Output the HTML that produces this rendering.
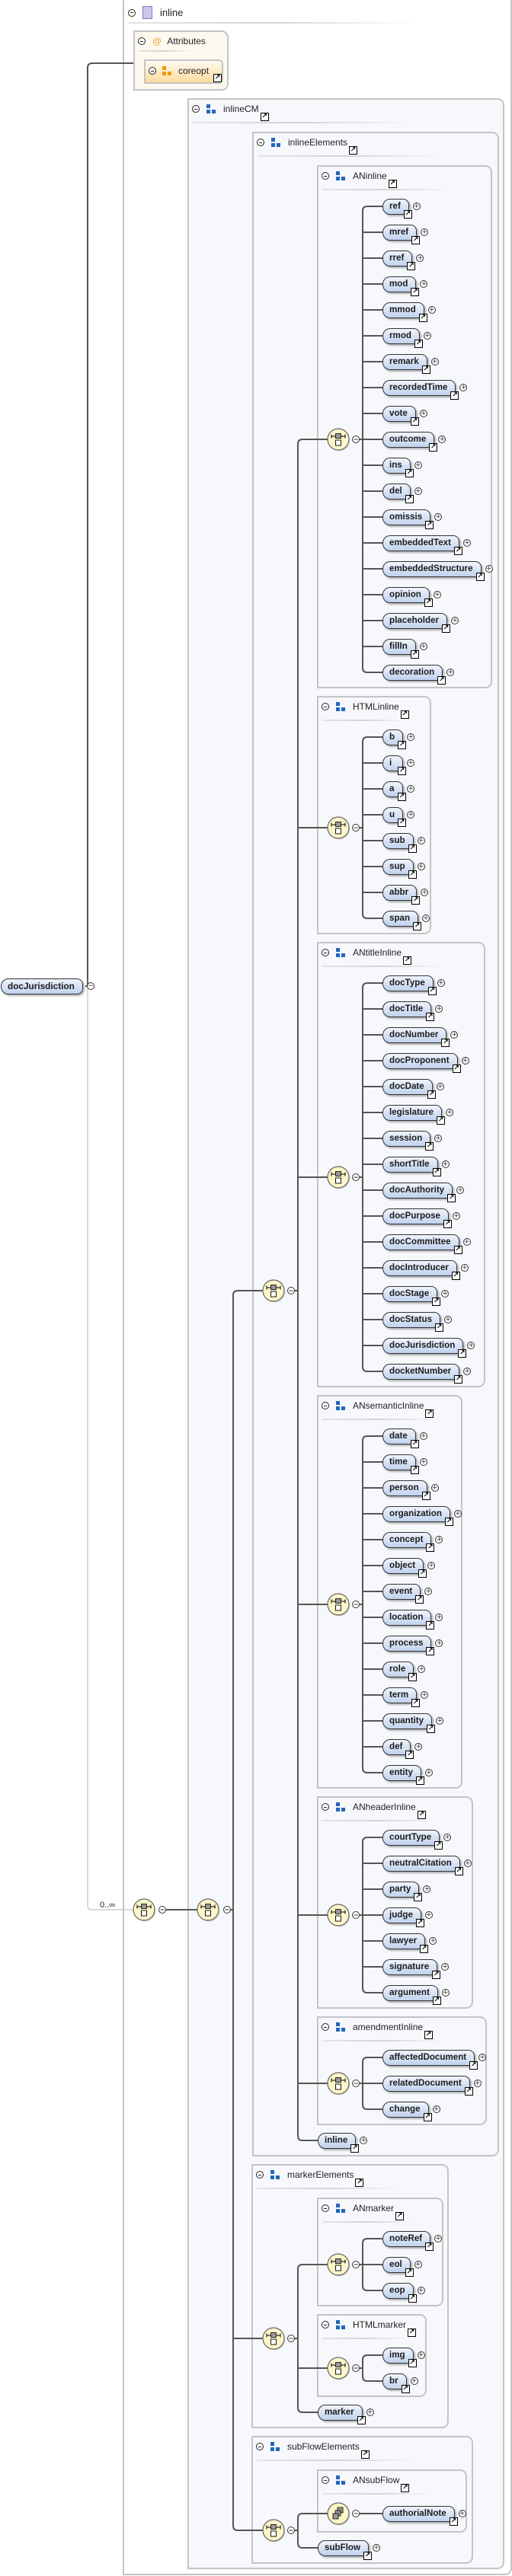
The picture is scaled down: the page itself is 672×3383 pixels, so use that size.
<!DOCTYPE html>
<html><head><meta charset="utf-8">
<style>
*{margin:0;padding:0}
html,body{width:672px;height:3383px;background:#fff;position:relative;overflow:hidden;font-family:"Liberation Sans",sans-serif}
.b{position:absolute;box-sizing:border-box;border:2px solid #c4c4c4;border-radius:0 9px 9px 0;background:#f7f8fc}
.hd{position:absolute;left:4px;top:3px;height:18px;display:flex;align-items:center;font-size:12px;color:#222;white-space:nowrap}
.mn{display:inline-block;width:8px;height:8px;border:1px solid #222;border-radius:50%;position:relative;margin-right:9px;background:#fff}
.mn::after{content:'';position:absolute;left:2px;top:3.5px;width:4px;height:1px;background:#222}
.gi{display:inline-block;width:5px;height:5px;background:#2266bb;box-shadow:0 7px 0 #2266bb,7px 7px 0 #2266bb;margin:-7px 17px 0 0}
.lk{display:inline-block;width:9px;height:9px;border:1px solid #000;background:#fff;position:relative;top:10px;margin-left:2px;font:bold 9px/9px "DejaVu Sans",sans-serif;text-align:center;font-style:normal;color:#000}
.sep{position:absolute;left:5px;top:29px;height:2px;background:linear-gradient(90deg,#e4e4e4,#d4d4d4 50%,rgba(220,220,220,0))}
.e{position:absolute;height:21px;box-sizing:border-box;line-height:18px;padding:0 10px 0 8px;border:1.5px solid #333;border-radius:10px 8px 8px 10px;background:linear-gradient(#f0f4fc,#c0d2ee);font:bold 11.6px/18px "Liberation Sans",sans-serif;color:#1c1c1c;box-shadow:2px 2px 2px rgba(0,0,0,.3);white-space:nowrap;min-width:27px}
.e::after{content:'\2197';position:absolute;right:-5px;bottom:-6px;width:9px;height:9px;border:1px solid #000;background:#fff;font:bold 9px/9px "DejaVu Sans",sans-serif;text-align:center;color:#000}
.e::before{content:'+';position:absolute;right:-16px;top:4px;width:8px;height:8px;border:1px solid #333;border-radius:50%;background:#fff;font:9px/8px "DejaVu Sans",sans-serif;text-align:center;color:#333}
.e.r::after{display:none}
.e.r::before{content:'\2212'}
</style></head><body>

<div class="b" style="left:161px;top:-2px;width:511px;height:3384px;background:#fff;border-radius:0 0 9px 0">
 <div style="position:absolute;left:5px;top:8px;display:flex;align-items:center;font-size:13px;color:#222"><i class="mn"></i><i style="display:inline-block;width:11px;height:15px;background:#cfc4ec;border:1px solid #8a76c8;margin-right:10px"></i><span>inline</span></div>
 <div class="sep" style="top:29px;width:380px"></div>
</div>

<div class="b" style="left:175px;top:40px;width:125px;height:79px;background:#fef9ef">
 <div class="hd"><i class="mn"></i><span style="color:#f0a030;margin-right:7px">@</span><span>Attributes</span></div>
 <div class="sep" style="width:70px;top:24px"></div>
</div>
<div class="b" style="left:189px;top:78px;width:104px;height:32px;background:linear-gradient(#fffaf0,#fcdc9e);border-radius:0 6px 6px 0">
 <div style="position:absolute;left:4px;top:6px;display:flex;align-items:center;font-size:12px;color:#222">
  <i class="mn" style="margin-right:8px"></i>
  <i style="display:inline-block;width:5px;height:5px;background:#f09a10;box-shadow:0 7px 0 #f09a10,7px 7px 0 #f09a10;margin:-7px 16px 0 0"></i><span>coreopt</span></div>
 <i class="lk" style="position:absolute;left:87px;top:17px">&#8599;</i>
</div>

<div class="b" style="left:246px;top:129px;width:416px;height:3245px"><div class="hd"><i class="mn"></i><i class="gi"></i><span>inlineCM</span><i class="lk">&#8599;</i></div><div class="sep" style="width:290px"></div></div>
<div class="b" style="left:331px;top:173px;width:324px;height:2659px"><div class="hd"><i class="mn"></i><i class="gi"></i><span>inlineElements</span><i class="lk">&#8599;</i></div><div class="sep" style="width:240px"></div></div>
<div class="b" style="left:416px;top:217px;width:230px;height:687px"><div class="hd"><i class="mn"></i><i class="gi"></i><span>ANinline</span><i class="lk">&#8599;</i></div><div class="sep" style="width:170px"></div></div>
<div class="b" style="left:416px;top:914px;width:150px;height:313px"><div class="hd"><i class="mn"></i><i class="gi"></i><span>HTMLinline</span><i class="lk">&#8599;</i></div><div class="sep" style="width:110px"></div></div>
<div class="b" style="left:416px;top:1237px;width:221px;height:585px"><div class="hd"><i class="mn"></i><i class="gi"></i><span>ANtitleInline</span><i class="lk">&#8599;</i></div><div class="sep" style="width:160px"></div></div>
<div class="b" style="left:416px;top:1832px;width:191px;height:517px"><div class="hd"><i class="mn"></i><i class="gi"></i><span>ANsemanticInline</span><i class="lk">&#8599;</i></div><div class="sep" style="width:150px"></div></div>
<div class="b" style="left:416px;top:2359px;width:205px;height:279px"><div class="hd"><i class="mn"></i><i class="gi"></i><span>ANheaderInline</span><i class="lk">&#8599;</i></div><div class="sep" style="width:150px"></div></div>
<div class="b" style="left:416px;top:2648px;width:223px;height:143px"><div class="hd"><i class="mn"></i><i class="gi"></i><span>amendmentInline</span><i class="lk">&#8599;</i></div><div class="sep" style="width:160px"></div></div>
<div class="b" style="left:330px;top:2842px;width:259px;height:347px"><div class="hd"><i class="mn"></i><i class="gi"></i><span>markerElements</span><i class="lk">&#8599;</i></div><div class="sep" style="width:190px"></div></div>
<div class="b" style="left:416px;top:2886px;width:166px;height:143px"><div class="hd"><i class="mn"></i><i class="gi"></i><span>ANmarker</span><i class="lk">&#8599;</i></div><div class="sep" style="width:120px"></div></div>
<div class="b" style="left:416px;top:3039px;width:144px;height:109px"><div class="hd"><i class="mn"></i><i class="gi"></i><span>HTMLmarker</span><i class="lk">&#8599;</i></div><div class="sep" style="width:110px"></div></div>
<div class="b" style="left:330px;top:3199px;width:291px;height:168px"><div class="hd"><i class="mn"></i><i class="gi"></i><span>subFlowElements</span><i class="lk">&#8599;</i></div><div class="sep" style="width:210px"></div></div>
<div class="b" style="left:416px;top:3243px;width:197px;height:83px"><div class="hd"><i class="mn"></i><i class="gi"></i><span>ANsubFlow</span><i class="lk">&#8599;</i></div><div class="sep" style="width:145px"></div></div>

<svg width="672" height="3383" style="position:absolute;left:0;top:0" xmlns="http://www.w3.org/2000/svg">
<defs>
 <g id="ch">
  <circle cx="1.5" cy="1.5" r="14" fill="#bbb" opacity=".5"/>
  <circle r="14" fill="#fcf6c8" stroke="#666" stroke-width="1.2"/>
  <line x1="-9" y1="-4" x2="9" y2="-4" stroke="#000" stroke-width="1"/>
  <line x1="-9" y1="-6.5" x2="-9" y2="-1.5" stroke="#000"/><line x1="9" y1="-6.5" x2="9" y2="-1.5" stroke="#000"/>
  <rect x="-3.5" y="-7.5" width="7" height="6" fill="#999" stroke="#000" stroke-width=".8"/>
  <rect x="-3.5" y="1" width="7" height="7" fill="#fff" stroke="#000" stroke-width=".9"/>
 </g>
 <g id="al">
  <circle cx="1.5" cy="1.5" r="14" fill="#bbb" opacity=".5"/>
  <circle r="14" fill="#fcf6c8" stroke="#666" stroke-width="1.2"/>
  <rect x="-1" y="-8" width="7" height="7" fill="#999" stroke="#000" stroke-width=".8"/>
  <rect x="-4" y="-4" width="7" height="7" fill="#999" stroke="#000" stroke-width=".8"/>
  <rect x="-7" y="0" width="7" height="7" fill="#999" stroke="#000" stroke-width=".8"/>
 </g>
 <g id="mi"><circle r="4.5" fill="#fff" stroke="#333"/><line x1="-2.5" x2="2.5" stroke="#333" stroke-width="1"/></g>
</defs>
<g fill="none" stroke="#555" stroke-width="2">
 <path d="M112,1295 H115 V89 Q115,83 121,83 H175"/>
 <path d="M218,2508 H259 M303,2508 H306"/>
 <path d="M345,1695 H312 Q306,1695 306,1701 V3317 Q306,3323 312,3323 H345 M306,3071 H345"/>
 <path d="M387,1695 H391 M430,577 H397 Q391,577 391,583 V2805 Q391,2811 397,2811 H417 M391,1087 H430 M391,1546 H430 M391,2107 H430 M391,2515 H430 M391,2736 H430"/>
 <path d="M387,3071 H391 M430,2974 H397 Q391,2974 391,2980 V3162 Q391,3168 397,3168 H417 M391,3110 H430"/>
 <path d="M387,3323 H391 M430,3301 H397 Q391,3301 391,3307 V3340 Q391,3346 397,3346 H417"/>
 <path d="M472,577 H476 M502,271 H482 Q476,271 476,277 V877 Q476,883 482,883 H502 M476,305 H502 M476,339 H502 M476,373 H502 M476,407 H502 M476,441 H502 M476,475 H502 M476,509 H502 M476,543 H502 M476,577 H502 M476,611 H502 M476,645 H502 M476,679 H502 M476,713 H502 M476,747 H502 M476,781 H502 M476,815 H502 M476,849 H502"/>
 <path d="M472,1087 H476 M502,968 H482 Q476,968 476,974 V1200 Q476,1206 482,1206 H502 M476,1002 H502 M476,1036 H502 M476,1070 H502 M476,1104 H502 M476,1138 H502 M476,1172 H502"/>
 <path d="M472,1546 H476 M502,1291 H482 Q476,1291 476,1297 V1795 Q476,1801 482,1801 H502 M476,1325 H502 M476,1359 H502 M476,1393 H502 M476,1427 H502 M476,1461 H502 M476,1495 H502 M476,1529 H502 M476,1563 H502 M476,1597 H502 M476,1631 H502 M476,1665 H502 M476,1699 H502 M476,1733 H502 M476,1767 H502"/>
 <path d="M472,2107 H476 M502,1886 H482 Q476,1886 476,1892 V2322 Q476,2328 482,2328 H502 M476,1920 H502 M476,1954 H502 M476,1988 H502 M476,2022 H502 M476,2056 H502 M476,2090 H502 M476,2124 H502 M476,2158 H502 M476,2192 H502 M476,2226 H502 M476,2260 H502 M476,2294 H502"/>
 <path d="M472,2515 H476 M502,2413 H482 Q476,2413 476,2419 V2611 Q476,2617 482,2617 H502 M476,2447 H502 M476,2481 H502 M476,2515 H502 M476,2549 H502 M476,2583 H502"/>
 <path d="M472,2736 H476 M502,2702 H482 Q476,2702 476,2708 V2764 Q476,2770 482,2770 H502 M476,2736 H502"/>
 <path d="M472,2974 H476 M502,2940 H482 Q476,2940 476,2946 V3002 Q476,3008 482,3008 H502 M476,2974 H502"/>
 <path d="M472,3110 H476 M502,3093 H482 Q476,3093 476,3099 V3121 Q476,3127 482,3127 H502"/>
 <path d="M472,3301 H502"/>
</g>
<path d="M115,1295 V2502 Q115,2508 121,2508 H175" fill="none" stroke="#c0c0c0" stroke-width="1.2"/>
<text x="131" y="2505" font-family="Liberation Sans, sans-serif" font-size="11" fill="#222">0..∞</text>

<use href="#ch" x="189" y="2508"/><use href="#mi" x="213" y="2508"/>
<use href="#ch" x="273" y="2508"/><use href="#mi" x="298" y="2508"/>
<use href="#ch" x="359" y="1695"/><use href="#mi" x="382" y="1695"/>
<use href="#ch" x="359" y="3071"/><use href="#mi" x="382" y="3071"/>
<use href="#ch" x="359" y="3323"/><use href="#mi" x="382" y="3323"/>
<use href="#ch" x="444" y="577"/><use href="#mi" x="467" y="577"/>
<use href="#ch" x="444" y="1087"/><use href="#mi" x="467" y="1087"/>
<use href="#ch" x="444" y="1546"/><use href="#mi" x="467" y="1546"/>
<use href="#ch" x="444" y="2107"/><use href="#mi" x="467" y="2107"/>
<use href="#ch" x="444" y="2515"/><use href="#mi" x="467" y="2515"/>
<use href="#ch" x="444" y="2736"/><use href="#mi" x="467" y="2736"/>
<use href="#ch" x="444" y="2974"/><use href="#mi" x="467" y="2974"/>
<use href="#ch" x="444" y="3110"/><use href="#mi" x="467" y="3110"/>
<use href="#al" x="444" y="3301"/><use href="#mi" x="467" y="3301"/>
</svg>

<div class="e r" style="left:1px;top:1285px;font-size:11.8px">docJurisdiction</div>

<div class="e" style="left:502px;top:261px">ref</div>
<div class="e" style="left:502px;top:295px">mref</div>
<div class="e" style="left:502px;top:329px">rref</div>
<div class="e" style="left:502px;top:363px">mod</div>
<div class="e" style="left:502px;top:397px">mmod</div>
<div class="e" style="left:502px;top:431px">rmod</div>
<div class="e" style="left:502px;top:465px">remark</div>
<div class="e" style="left:502px;top:499px">recordedTime</div>
<div class="e" style="left:502px;top:533px">vote</div>
<div class="e" style="left:502px;top:567px">outcome</div>
<div class="e" style="left:502px;top:601px">ins</div>
<div class="e" style="left:502px;top:635px">del</div>
<div class="e" style="left:502px;top:669px">omissis</div>
<div class="e" style="left:502px;top:703px">embeddedText</div>
<div class="e" style="left:502px;top:737px">embeddedStructure</div>
<div class="e" style="left:502px;top:771px">opinion</div>
<div class="e" style="left:502px;top:805px">placeholder</div>
<div class="e" style="left:502px;top:839px">fillIn</div>
<div class="e" style="left:502px;top:873px">decoration</div>

<div class="e" style="left:502px;top:958px">b</div>
<div class="e" style="left:502px;top:992px">i</div>
<div class="e" style="left:502px;top:1026px">a</div>
<div class="e" style="left:502px;top:1060px">u</div>
<div class="e" style="left:502px;top:1094px">sub</div>
<div class="e" style="left:502px;top:1128px">sup</div>
<div class="e" style="left:502px;top:1162px">abbr</div>
<div class="e" style="left:502px;top:1196px">span</div>

<div class="e" style="left:502px;top:1281px">docType</div>
<div class="e" style="left:502px;top:1315px">docTitle</div>
<div class="e" style="left:502px;top:1349px">docNumber</div>
<div class="e" style="left:502px;top:1383px">docProponent</div>
<div class="e" style="left:502px;top:1417px">docDate</div>
<div class="e" style="left:502px;top:1451px">legislature</div>
<div class="e" style="left:502px;top:1485px">session</div>
<div class="e" style="left:502px;top:1519px">shortTitle</div>
<div class="e" style="left:502px;top:1553px">docAuthority</div>
<div class="e" style="left:502px;top:1587px">docPurpose</div>
<div class="e" style="left:502px;top:1621px">docCommittee</div>
<div class="e" style="left:502px;top:1655px">docIntroducer</div>
<div class="e" style="left:502px;top:1689px">docStage</div>
<div class="e" style="left:502px;top:1723px">docStatus</div>
<div class="e" style="left:502px;top:1757px">docJurisdiction</div>
<div class="e" style="left:502px;top:1791px">docketNumber</div>

<div class="e" style="left:502px;top:1876px">date</div>
<div class="e" style="left:502px;top:1910px">time</div>
<div class="e" style="left:502px;top:1944px">person</div>
<div class="e" style="left:502px;top:1978px">organization</div>
<div class="e" style="left:502px;top:2012px">concept</div>
<div class="e" style="left:502px;top:2046px">object</div>
<div class="e" style="left:502px;top:2080px">event</div>
<div class="e" style="left:502px;top:2114px">location</div>
<div class="e" style="left:502px;top:2148px">process</div>
<div class="e" style="left:502px;top:2182px">role</div>
<div class="e" style="left:502px;top:2216px">term</div>
<div class="e" style="left:502px;top:2250px">quantity</div>
<div class="e" style="left:502px;top:2284px">def</div>
<div class="e" style="left:502px;top:2318px">entity</div>

<div class="e" style="left:502px;top:2403px">courtType</div>
<div class="e" style="left:502px;top:2437px">neutralCitation</div>
<div class="e" style="left:502px;top:2471px">party</div>
<div class="e" style="left:502px;top:2505px">judge</div>
<div class="e" style="left:502px;top:2539px">lawyer</div>
<div class="e" style="left:502px;top:2573px">signature</div>
<div class="e" style="left:502px;top:2607px">argument</div>

<div class="e" style="left:502px;top:2692px">affectedDocument</div>
<div class="e" style="left:502px;top:2726px">relatedDocument</div>
<div class="e" style="left:502px;top:2760px">change</div>

<div class="e" style="left:417px;top:2801px">inline</div>

<div class="e" style="left:502px;top:2930px">noteRef</div>
<div class="e" style="left:502px;top:2964px">eol</div>
<div class="e" style="left:502px;top:2998px">eop</div>
<div class="e" style="left:502px;top:3083px">img</div>
<div class="e" style="left:502px;top:3117px">br</div>
<div class="e" style="left:417px;top:3158px">marker</div>

<div class="e" style="left:502px;top:3291px">authorialNote</div>
<div class="e" style="left:417px;top:3336px">subFlow</div>

</body></html>
